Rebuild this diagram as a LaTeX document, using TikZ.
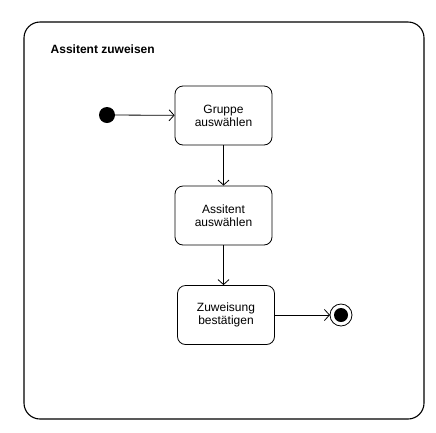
\documentclass[tikz,border=0pt]{standalone}
\usepackage{fontspec}
\setmainfont{Liberation Sans}
\usetikzlibrary{positioning,arrows.meta}

\begin{document}
\begin{tikzpicture}[x=1pt,y=-1pt,line width=0.8pt,
  zustand/.style={draw,rounded corners=8pt,minimum width=97pt,minimum height=59pt,align=center,font=\fontsize{12}{13}\selectfont,inner sep=2pt},
  pfeil/.style={-{Straight Barb[length=5pt,width=11pt]}}]
\useasboundingbox (0,0) rectangle (436,432);
% ---- Rahmen ----
\draw[line width=1.1pt,rounded corners=16pt] (24,22) rectangle (424,419);
\node[anchor=west,font=\bfseries\fontsize{12}{14}\selectfont] (titel) at (47,49) {Assitent zuweisen};
% ---- Zustaende ----
\fill (107,115) circle (8) coordinate (start);
\node[zustand] (gruppe) at (223.5,115.5) {Gruppe\\auswählen};
\node[zustand] (assitent) at (223.5,215.5) {Assitent\\auswählen};
\node[zustand] (zuweisung) at (226,315) {Zuweisung\\bestätigen};
\draw (341,315) circle (11);
\fill (341,315) circle (7);
\coordinate (ende) at (330,315);
% ---- Uebergaenge ----
\draw[pfeil] (start) -- (gruppe);
\draw[pfeil] (gruppe.south) -- (gruppe.south |- assitent.north);
\draw[pfeil] (assitent.south) -- (assitent.south |- zuweisung.north);
\draw[pfeil] (zuweisung) -- (ende);
\end{tikzpicture}
\end{document}
